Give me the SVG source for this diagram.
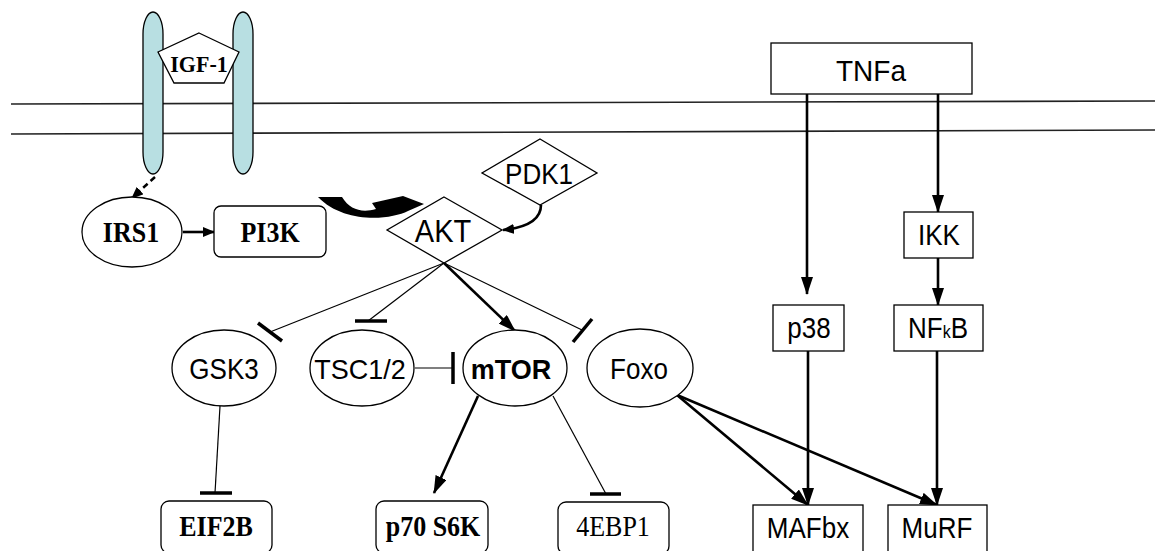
<svg xmlns="http://www.w3.org/2000/svg" width="1155" height="551" viewBox="0 0 1155 551">
<defs>
<style>
.sans{font-family:"Liberation Sans",Arial,sans-serif;font-size:26px;fill:#000;text-anchor:middle}
.serifb{font-family:"Liberation Serif","Times New Roman",serif;font-size:26px;font-weight:bold;fill:#000;text-anchor:middle}
.serif{font-family:"Liberation Serif","Times New Roman",serif;font-size:26px;fill:#000;text-anchor:middle}
.node{fill:#fff;stroke:#000;stroke-width:1.3}
.thin{stroke:#000;stroke-width:1.2;fill:none}
.thick{stroke:#000;stroke-width:2.6;fill:none}
.bar{stroke:#000;stroke-width:3.5;fill:none}
.mem{stroke:#222;stroke-width:1.6;fill:none}
.rec{fill:#b8dfe2;stroke:#000;stroke-width:1.3}
</style>
<marker id="arr" markerUnits="userSpaceOnUse" markerWidth="18" markerHeight="12" refX="17" refY="6" orient="auto"><path d="M0,0 L18,6 L0,12 Z" fill="#000"/></marker>
<marker id="arrs" markerUnits="userSpaceOnUse" markerWidth="12" markerHeight="10" refX="11" refY="5" orient="auto"><path d="M0,0 L12,5 L0,10 Z" fill="#000"/></marker>
</defs>
<rect width="1155" height="551" fill="#fff"/>
<g id="membrane">
<line class="mem" x1="11" y1="104" x2="1155" y2="101"/>
<line class="mem" x1="11" y1="134" x2="1155" y2="130"/>
</g>
<g id="receptor">
<rect class="rec" x="143" y="12" width="20" height="162" rx="10" ry="22"/>
<rect class="rec" x="233" y="12" width="20" height="162" rx="10" ry="22"/>
</g>
<g id="IGF-1">
<polygon class="node" points="199,33 239,52 224,83 174,83 158,52"/>
<text class="serifb" transform="translate(199 72) scale(1 1.08)" style="font-size:22px">IGF-1</text>
</g>
<g id="connectors">
<line x1="155" y1="177" x2="132" y2="198" stroke="#000" stroke-width="2.5" stroke-dasharray="6,4" marker-end="url(#arrs)"/>
<line class="thick" x1="183" y1="232" x2="214" y2="232" marker-end="url(#arrs)"/>
<path d="M318,197 L342,197 C350,210 362,213 376,209 L372,203 L403,196 L424,204 L408,211 C390,220 344,224 318,197 Z" fill="#000"/>
<path class="thick" d="M541,205 Q541,226 503,230" marker-end="url(#arrs)"/>
<line class="thin" x1="444" y1="263" x2="270" y2="332"/>
<line class="bar" x1="258" y1="323" x2="282" y2="341"/>
<line class="thin" x1="444" y1="263" x2="368" y2="321"/>
<line class="bar" x1="355" y1="321" x2="387" y2="321"/>
<line class="thick" x1="444" y1="263" x2="515" y2="331" marker-end="url(#arr)"/>
<line class="thin" x1="444" y1="263" x2="582" y2="330"/>
<line class="bar" x1="573" y1="342" x2="592" y2="319"/>
<line class="thin" x1="415" y1="368" x2="453" y2="368"/>
<line class="bar" x1="453" y1="352" x2="453" y2="384"/>
<line class="thin" x1="220" y1="406" x2="215" y2="493"/>
<line class="bar" x1="200" y1="493" x2="232" y2="493"/>
<line class="thick" x1="478" y1="396" x2="434" y2="493" marker-end="url(#arr)"/>
<line class="thin" x1="553" y1="396" x2="606" y2="494"/>
<line class="bar" x1="590" y1="494" x2="621" y2="494"/>
<line class="thick" x1="677" y1="395" x2="808" y2="505" marker-end="url(#arr)"/>
<line class="thick" x1="677" y1="395" x2="937" y2="505" marker-end="url(#arr)"/>
<line class="thick" x1="807" y1="93" x2="807" y2="294" marker-end="url(#arr)"/>
<line class="thick" x1="938" y1="94" x2="938" y2="212" marker-end="url(#arr)"/>
<line class="thick" x1="938" y1="258" x2="938" y2="305" marker-end="url(#arr)"/>
<line class="thick" x1="808" y1="351" x2="808" y2="505" marker-end="url(#arr)"/>
<line class="thick" x1="937" y1="351" x2="937" y2="505" marker-end="url(#arr)"/>
</g>
<g id="IRS1">
<ellipse class="node" cx="132" cy="232" rx="50" ry="35"/>
<text class="serifb" transform="translate(131 242) scale(1 1.15)">IRS1</text>
</g>
<g id="PI3K">
<rect class="node" x="214" y="206" width="112" height="51" rx="7"/>
<text class="serifb" transform="translate(270 242) scale(1 1.12)">PI3K</text>
</g>
<g id="PDK1">
<polygon class="node" points="540,139 597,173 540,205 482,173"/>
<text class="sans" transform="translate(539 184) scale(1 1.1)">PDK1</text>
</g>
<g id="AKT">
<polygon class="node" points="444,197 502,230 444,263 387,230"/>
<text class="sans" transform="translate(443 242) scale(1 1.05)" style="font-size:29px">AKT</text>
</g>
<g id="GSK3">
<ellipse class="node" cx="224" cy="368" rx="52" ry="38"/>
<text class="sans" transform="translate(224 379) scale(1 1.1)">GSK3</text>
</g>
<g id="TSC1-2">
<ellipse class="node" cx="362" cy="368" rx="52" ry="38"/>
<text class="sans" transform="translate(360 379) scale(1 1.05)" style="font-size:27px">TSC1/2</text>
</g>
<g id="mTOR">
<ellipse class="node" cx="515" cy="368" rx="52" ry="38"/>
<text class="sans" transform="translate(511 379) scale(1 1.05)" style="font-weight:bold;font-size:27px">mTOR</text>
</g>
<g id="Foxo">
<ellipse class="node" cx="640" cy="368" rx="53" ry="39"/>
<text class="sans" transform="translate(639 379) scale(1 1.1)">Foxo</text>
</g>
<g id="EIF2B">
<rect class="node" x="161" y="501" width="111" height="52" rx="8"/>
<text class="serifb" transform="translate(216 536) scale(1 1.12)">EIF2B</text>
</g>
<g id="p70S6K">
<rect class="node" x="376" y="501" width="112" height="52" rx="8"/>
<text class="serifb" transform="translate(433 536) scale(1 1.12)">p70 S6K</text>
</g>
<g id="4EBP1">
<rect class="node" x="558" y="502" width="111" height="52" rx="8"/>
<text class="serif" transform="translate(613 536) scale(1 1.12)">4EBP1</text>
</g>
<g id="TNFa">
<rect class="node" x="771" y="43" width="201" height="51"/>
<text class="sans" transform="translate(871 81) scale(1 1.05)" style="font-size:28px">TNFa</text>
</g>
<g id="IKK">
<rect class="node" x="904" y="212" width="69" height="46"/>
<text class="sans" transform="translate(939 245) scale(1 1.1)">IKK</text>
</g>
<g id="p38">
<rect class="node" x="773" y="305" width="71" height="46"/>
<text class="sans" transform="translate(809 338) scale(1 1.1)">p38</text>
</g>
<g id="NFkB">
<rect class="node" x="894" y="305" width="89" height="46"/>
<text class="sans" transform="translate(938 338) scale(1 1.1)">NF<tspan style="font-size:16px">k</tspan>B</text>
</g>
<g id="MAFbx">
<rect class="node" x="753" y="505" width="110" height="48"/>
<text class="sans" transform="translate(808 538) scale(1 1.1)">MAFbx</text>
</g>
<g id="MuRF">
<rect class="node" x="888" y="505" width="99" height="48"/>
<text class="sans" transform="translate(937 538) scale(1 1.1)">MuRF</text>
</g>
</svg>
